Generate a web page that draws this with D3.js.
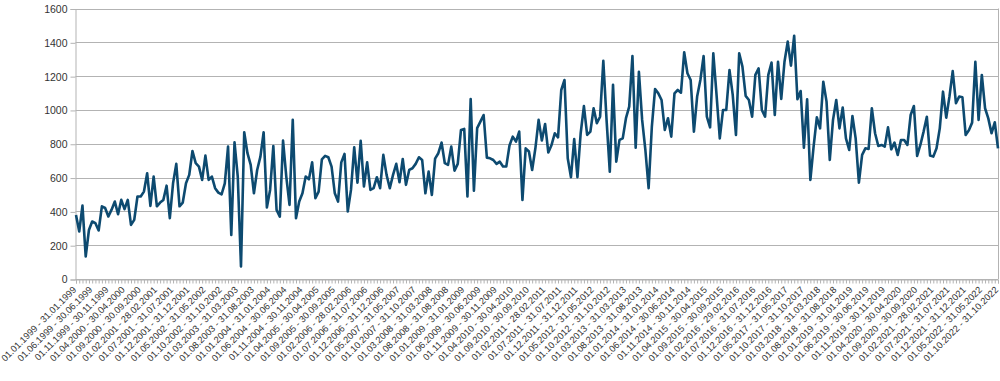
<!DOCTYPE html>
<html>
<head>
<meta charset="utf-8">
<script src="https://cdn.jsdelivr.net/npm/d3@7"></script>
<style>
body { margin: 0; background: #fff; }
text { font-family: "Liberation Sans", Arial, sans-serif; }
</style>
</head>
<body>
<script>
var LineColor = "#0d4a70"
var GridColor = "#b3b3b3"
var TextColor = "#333333"

// first and last month of the series
var startYear = 1999, startMonth = 0;
var endYear = 2022, endMonth = 9;

var yTicks = [0, 200, 400, 600, 800, 1000, 1200, 1400, 1600];
var labelEvery = 5;

var values = [
	379, 281, 434, 133, 290, 340, 330, 287, 430, 420,
	370, 410, 458, 383, 468, 413, 468, 320, 350, 488,
	488, 517, 625, 432, 606, 430, 452, 468, 552, 360,
	566, 681, 430, 452, 566, 616, 757, 685, 665, 586,
	730, 586, 606, 537, 511, 500, 566, 783, 261, 808,
	606, 74, 868, 744, 675, 507, 645, 724, 868, 423,
	527, 787, 409, 369, 819, 606, 438, 941, 360, 458,
	507, 606, 590, 690, 478, 517, 708, 728, 720, 665,
	507, 458, 690, 740, 399, 527, 779, 570, 817, 547,
	690, 527, 537, 602, 537, 734, 616, 537, 616, 681,
	572, 710, 557, 645, 655, 681, 720, 704, 507, 635,
	497, 712, 744, 807, 685, 675, 783, 641, 681, 882,
	888, 488, 1065, 523, 892, 931, 970, 718, 714, 704,
	681, 694, 665, 665, 790, 842, 813, 872, 468, 773,
	754, 645, 773, 941, 819, 917, 748, 793, 862, 838,
	1118, 1177, 714, 602, 828, 602, 862, 1023, 852, 872,
	1010, 921, 960, 1291, 941, 635, 1148, 694, 823, 832,
	951, 1020, 1319, 777, 1226, 941, 763, 537, 901, 1124,
	1098, 1059, 882, 951, 842, 1098, 1118, 1102, 1341, 1217,
	1177, 872, 1079, 1177, 1319, 960, 897, 1335, 1089, 832,
	1000, 1000, 1236, 1089, 852, 1335, 1256, 1083, 1059, 960,
	1207, 1246, 1000, 960, 1207, 1280, 970, 1285, 1065, 1285,
	1404, 1262, 1439, 1063, 1112, 777, 1063, 586, 783, 956,
	891, 1167, 1049, 704, 941, 1059, 891, 1014, 832, 763,
	964, 832, 570, 734, 773, 769, 1010, 862, 787, 793,
	783, 897, 767, 807, 734, 822, 822, 793, 970, 1023,
	728, 793, 872, 960, 730, 724, 773, 891, 1108, 954,
	1080, 1230, 1040, 1079, 1075, 852, 880, 925, 1285, 941,
	1207, 1010, 950, 862, 927, 773
];

// category labels: "01.MM.YYYY - DD.MM.YYYY" per month
var fmt = d3.timeFormat("%d.%m.%Y");
var categories = [];
var m = new Date(startYear, startMonth, 1);
var last = new Date(endYear, endMonth, 1);
while (m <= last) {
	var mEnd = new Date(m.getFullYear(), m.getMonth() + 1, 0);
	categories.push(fmt(m) + " - " + fmt(mEnd));
	m = new Date(m.getFullYear(), m.getMonth() + 1, 1);
}

var data = values.map((v, i) => ({'i': i, 'v': v, 'c': categories[i]}));

var W = 1000, H = 381;
var plotLeft = 75.5, plotRight = 998, plotTop = 8.5, plotBottom = 279;

var svg = d3.select("body").append("svg")
	.attr("width", W)
	.attr("height", H);

var x = d3.scaleLinear().domain([0, values.length - 1]).range([plotLeft + 0.5, plotRight]);
var y = d3.scaleLinear().domain([0, 1600]).range([plotBottom, plotTop]);

// grid
svg.append("g").selectAll("line").data(yTicks).enter()
	.append("line")
	.attr("x1", plotLeft)
	.attr("x2", plotRight)
	.attr("y1", d => Math.round(y(d)) + 0.5)
	.attr("y2", d => Math.round(y(d)) + 0.5)
	.attr("stroke", GridColor)
	.attr("stroke-width", 1)

svg.append("line")
	.attr("x1", plotRight + 0.5).attr("x2", plotRight + 0.5)
	.attr("y1", plotTop).attr("y2", plotBottom)
	.attr("stroke", GridColor)

// y axis
var yAxis = svg.append("g")
	.attr("transform", "translate(" + plotLeft + ",0.5)")
	.call(d3.axisLeft(y).tickValues(yTicks).tickSize(5).tickPadding(3).tickFormat(d3.format("d")));
yAxis.select(".domain").attr("stroke", GridColor);
yAxis.selectAll(".tick line").attr("stroke", GridColor);
yAxis.selectAll("text")
	.attr("fill", TextColor)
	.attr("font-size", "10.5px")
	.attr("font-family", "Liberation Sans, Arial, sans-serif");

// x axis: a tick per month, a label every 5th
var xAxis = svg.append("g")
	.attr("transform", "translate(0," + (plotBottom + 0.5) + ")")
	.call(d3.axisBottom(x).tickValues(d3.range(values.length)).tickSize(4).tickFormat(""));
xAxis.select(".domain").attr("stroke", GridColor);
xAxis.selectAll(".tick line").attr("stroke", GridColor);

svg.append("g").selectAll("text")
	.data(data.filter(d => d.i % labelEvery == 0)).enter()
	.append("text")
	.attr("transform", d => "translate(" + (x(d.i) - 1.5) + "," + (plotBottom + 9) + ") rotate(-45)")
	.attr("text-anchor", "end")
	.attr("dy", "0.35em")
	.attr("font-size", "9.3px")
	.attr("fill", TextColor)
	.text(d => d.c)

// the series
var line = d3.line()
	.x(d => x(d.i))
	.y(d => y(d.v));

svg.append("path")
	.datum(data)
	.attr("d", line)
	.attr("fill", "none")
	.attr("stroke", LineColor)
	.attr("stroke-width", 2.6)
	.attr("stroke-linejoin", "round")
</script>
</body>
</html>
